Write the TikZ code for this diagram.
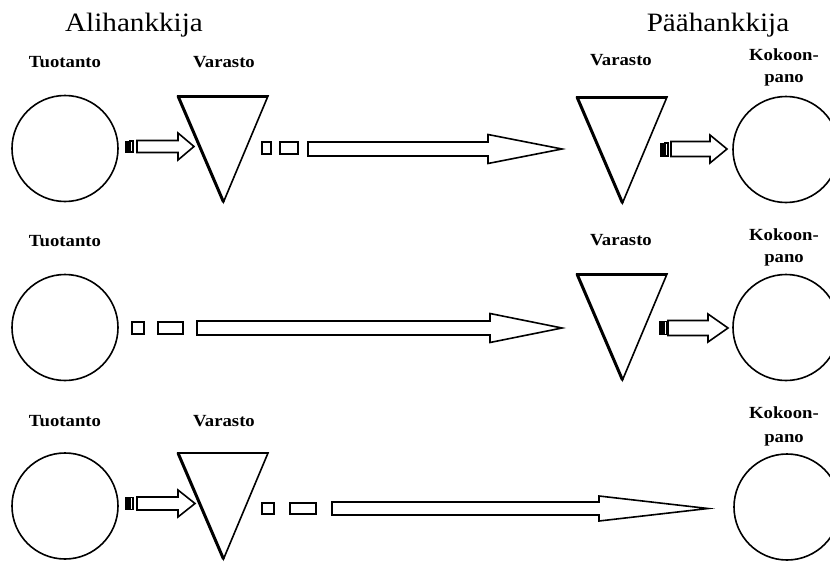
\documentclass[tikz,border=0pt]{standalone}
\usepackage{fontspec}
\setmainfont{Liberation Serif}[FakeStretch=1.1]
\begin{document}
% Block arrow: start x, head x, tip x, centre y, half body width, half head width
\newcommand\blockarrow[6]{%
  \draw[outline] (#1,#4-#5) -- (#2,#4-#5) -- (#2,#4-#6) -- (#3,#4)
    -- (#2,#4+#6) -- (#2,#4+#5) -- (#1,#4+#5) -- cycle;}
% Two short bars in front of a block arrow: x, centre y, half height
\newcommand\tailbars[3]{%
  \fill (#1,#2-#3) rectangle (#1+3.5,#2+#3);
  \draw[line width=1.2pt] (#1+5,#2-#3+0.5) rectangle (#1+8,#2+#3-0.5);}
% Stock triangle: name, top-left x, top y, width of the top edge
\newcommand\stock[4]{%
  \coordinate (#1-l) at (#2,#3);
  \coordinate (#1-r) at (#2+90,#3);
  \coordinate (#1-b) at (#2+45.5,#3+106);
  \draw[outline] (#1-l) -- (#1-r) -- (#1-b) -- cycle;
  \draw[line width=3pt] (#1-b) -- (#1-l);
  \draw[line width=#4] (#1-l) -- (#1-r);}
\begin{tikzpicture}[x=1pt,y=-1pt,
  outline/.style={line width=1.6pt, line join=miter},
  proc/.style={draw, circle, line width=1.6pt, minimum size=106pt, inner sep=0pt},
  lbl/.style={font=\fontsize{17}{22}\selectfont\bfseries, inner sep=0pt, anchor=base},
  head/.style={font=\fontsize{26.5}{30}\selectfont, inner sep=0pt, anchor=base},
]
\useasboundingbox (0,0) rectangle (830,562);
\clip (0,0) rectangle (830,562);

% column headings
\node[head] (sub) at (134,31) {Alihankkija};
\node[head] (main) at (718,31) {Päähankkija};

% ---- row 1: production -> stock -> transport -> stock -> assembly
\node[lbl] (t1) at (65,67) {Tuotanto};
\node[lbl] (v1) at (224,67) {Varasto};
\node[lbl] (w1) at (621,65) {Varasto};
\node[lbl] (k1) at (784,60) {Kokoon-};
\node[lbl] (p1) at (784,82) {pano};
\node[proc] (prod1) at (65,148.5) {};
\node[proc] (asm1) at (786,149.5) {};
\tailbars{125}{146.5}{6}
\blockarrow{137}{178}{194}{146.5}{6}{13.5}
\stock{s1}{178}{96}{3pt}
\draw[outline] (262,142) rectangle (271,154);
\draw[outline] (280,142) rectangle (298,154);
\blockarrow{308}{488}{562}{149}{7}{14.5}
\stock{r1}{577}{97}{3pt}
\tailbars{660}{149.5}{7}
\blockarrow{671}{710}{727}{149}{7.5}{14}

% ---- row 2: production -> transport -> stock -> assembly
\node[lbl] (t2) at (65,246) {Tuotanto};
\node[lbl] (w2) at (621,245) {Varasto};
\node[lbl] (k2) at (784,240) {Kokoon-};
\node[lbl] (p2) at (784,262) {pano};
\node[proc] (prod2) at (65,327.5) {};
\node[proc] (asm2) at (786,327.5) {};
\draw[outline] (132,322) rectangle (144,334);
\draw[outline] (158,322) rectangle (183,334);
\blockarrow{197}{490}{562}{328}{7}{14.5}
\stock{r2}{577}{274}{3pt}
\tailbars{659}{328}{7}
\blockarrow{668}{708}{728}{328}{7.5}{14}

% ---- row 3: production -> stock -> transport -> assembly
\node[lbl] (t3) at (65,426) {Tuotanto};
\node[lbl] (v3) at (224,426) {Varasto};
\node[lbl] (k3) at (784,418) {Kokoon-};
\node[lbl] (p3) at (784,442) {pano};
\node[proc] (prod3) at (65,506) {};
\node[proc] (asm3) at (787,507) {};
\tailbars{125}{503.5}{6.5}
\blockarrow{137}{178}{195}{503.5}{6.5}{13.5}
\stock{s3}{178}{453}{1.6pt}
\draw[outline] (262,503) rectangle (274,514);
\draw[outline] (290,503) rectangle (316,514);
\blockarrow{332}{599}{708}{508.5}{6.5}{12.5}
\end{tikzpicture}
\end{document}
